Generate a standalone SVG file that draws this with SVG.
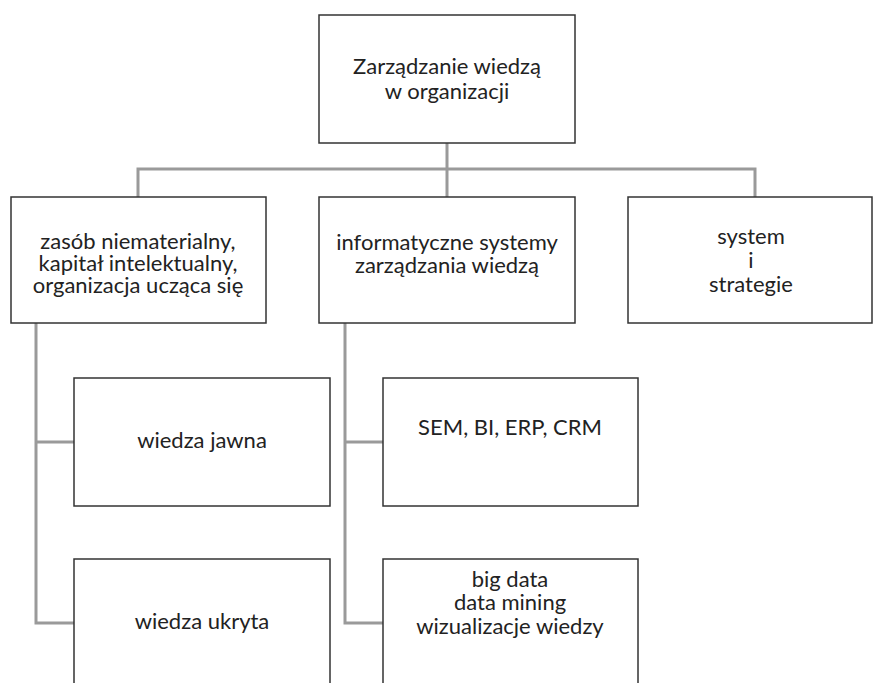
<svg xmlns="http://www.w3.org/2000/svg" width="873" height="683" viewBox="0 0 873 683">
<style>
.box{fill:#fff;stroke:#333;stroke-width:1.5}
.ln{fill:none;stroke:#9a9a9a;stroke-width:3}
text{font-family:"Lato","Open Sans",sans-serif;font-size:22px;fill:#222;text-anchor:middle}
</style>
<rect width="873" height="683" fill="#fff"/>
<g id="connectors">
<path class="ln" d="M447 143V197M138 197V169H755V197"/>
<path class="ln" d="M36 323V623H74M36 442H74"/>
<path class="ln" d="M345 323V623H383M345 442H383"/>
</g>
<g id="root"><rect class="box" x="319" y="15" width="256" height="128"/>
<text x="447" y="74">Zarządzanie wiedzą</text><text x="447" y="99">w organizacji</text></g>
<g id="n1"><rect class="box" x="11" y="197" width="255" height="126"/>
<text x="138" y="249">zasób niematerialny,</text><text x="138" y="271">kapitał intelektualny,</text><text x="138" y="293">organizacja ucząca się</text></g>
<g id="n2"><rect class="box" x="319" y="197" width="256" height="126"/>
<text x="447" y="250">informatyczne systemy</text><text x="447" y="273">zarządzania wiedzą</text></g>
<g id="n3"><rect class="box" x="628" y="197" width="244" height="126"/>
<text x="751" y="244">system</text><text x="751" y="268">i</text><text x="751" y="292">strategie</text></g>
<g id="n4"><rect class="box" x="74" y="378" width="256" height="128"/>
<text x="202" y="448">wiedza jawna</text></g>
<g id="n5"><rect class="box" x="74" y="559" width="256" height="130"/>
<text x="202" y="629">wiedza ukryta</text></g>
<g id="n6"><rect class="box" x="383" y="378" width="255" height="128"/>
<text x="510" y="435">SEM, BI, ERP, CRM</text></g>
<g id="n7"><rect class="box" x="383" y="559" width="255" height="130"/>
<text x="510" y="587">big data</text><text x="510" y="610">data mining</text><text x="510" y="634">wizualizacje wiedzy</text></g>
</svg>
